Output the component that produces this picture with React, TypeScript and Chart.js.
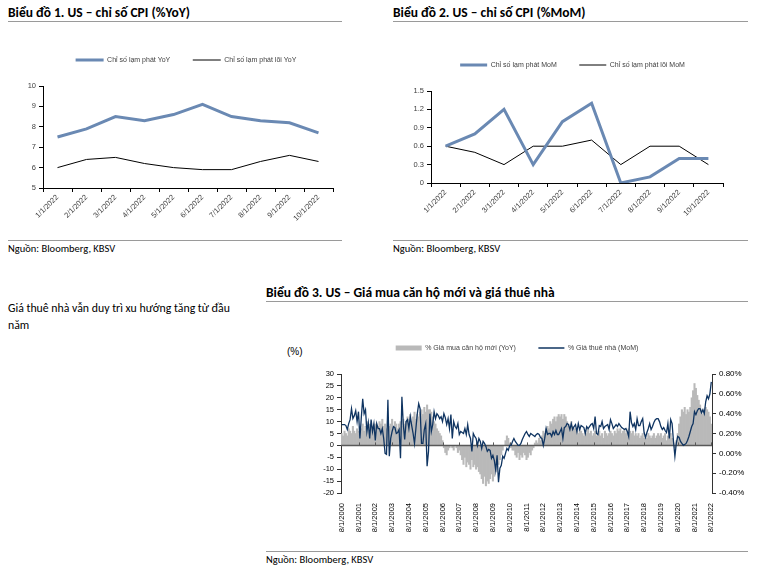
import React, { useEffect, useRef } from 'react';
import { Chart, registerables } from 'chart.js';

Chart.register(...registerables);

// ---------- Chart 1 & 2 data ----------
const cpiMonths = ['1/1/2022', '2/1/2022', '3/1/2022', '4/1/2022', '5/1/2022', '6/1/2022', '7/1/2022', '8/1/2022', '9/1/2022', '10/1/2022'];
const cpiYoY = [7.5, 7.9, 8.5, 8.3, 8.6, 9.1, 8.5, 8.3, 8.2, 7.7];
const coreYoY = [6.0, 6.4, 6.5, 6.2, 6.0, 5.9, 5.9, 6.3, 6.6, 6.3];
const cpiMoM = [0.6, 0.8, 1.2, 0.3, 1.0, 1.3, 0.0, 0.1, 0.4, 0.4];
const coreMoM = [0.6, 0.5, 0.3, 0.6, 0.6, 0.7, 0.3, 0.6, 0.6, 0.3];

// ---------- Chart 3 data (monthly, 8/2000 .. 8/2022) ----------
const housingStartYear = 2000;
const housingStartMonth = 8;
const newHomePriceYoY = [
  5, 4, 6, 5, 4, 7, 6, 5, 8, 6, 5, 7, 6,
  8, 7, 9, 6, 8, 10, 7, 9, 8, 6, 8, 9, 7, 8, 10, 9, 11, 8,
  9, 7, 10, 8, 9, 11, 8, 10, 9, 7, 9, 10, 8, 11, 9,
  10, 12, 11, 13, 10, 12, 14, 11, 13, 12, 14,
  15, 13, 16, 14, 17, 15,
  15, 14, 12, 10, 9, 7, 6, 5, 4, 2, -1, -3, -4, -2,
  -1, 0, -1, -2, 0, -1, -3, -2,
  -4, -6, -8, -5, -9, -7, -8, -10, -6, -9, -8,
  -10, -9, -11, -12, -14, -16, -13, -17, -15, -16, -14, -12,
  -15, -13, -11, -9, -8,
  -6, -4, -2, 0, 2, 4,
  3, 1, -1, -2,
  -2, -4, -5, -3, -6, -4, -5, -3, -4, -6, -5, -3, -4, -2, -1,
  1, 2, 1, 3, 2, 4,
  6, 5, 7, 8, 7,
  10, 9, 11, 12, 10, 12,
  13, 12, 13, 11, 13, 12,
  10, 9, 8, 10, 8, 7,
  7, 6, 5, 7, 6, 5, 4, 6, 5, 7, 5, 6, 4,
  5, 6, 4, 5, 6, 4, 5, 3, 6, 5, 4, 5, 6, 5, 4, 6, 5, 7,
  6, 7, 5, 6, 7, 5, 6, 7, 6, 5, 6, 4, 5,
  4, 5, 3, 4, 5, 3, 4, 3, 5, 4, 3, 4, 5, 3, 4, 5, 4,
  5, 3, 4, 5, 2, 4, 3, 5, 3,
  1, -1, 2, 5, 9,
  12, 15, 14, 16, 13, 15, 14, 16,
  20, 23, 26, 24, 21,
  19, 17, 15, 13, 14, 16,
  15, 14, 12, 9,
];
const rentMoM = [
  0.29, 0.29, 0.29, 0.28, 0.24, 0.30, 0.34, 0.45, 0.35, 0.38,
  0.43, 0.32, 0.42, 0.15, 0.36, 0.55, 0.40, 0.44, 0.22, 0.31,
  0.15, 0.34, 0.22, 0.30, 0.13, 0.30, 0.25, 0.25, 0.20, 0.25,
  0.15, 0.00, -0.01, 0.54, -0.03, 0.15, 0.22, 0.27, 0.26, 0.20,
  0.21, 0.24, -0.05, 0.57, 0.29, 0.14, 0.32, 0.34, 0.25, 0.37,
  0.28, 0.20, 0.10, 0.25, 0.40, 0.50, 0.45, 0.10, 0.10, 0.24,
  0.30, -0.13, 0.02,
  0.40, 0.22, 0.29, 0.42, 0.35, 0.40, 0.38, 0.35, 0.37, 0.32,
  0.40, 0.36, 0.29, 0.35, 0.25, 0.39, 0.15, 0.32, 0.27, 0.25,
  0.30, 0.19, 0.22, 0.21, 0.20, 0.25, 0.19, 0.29, 0.19, 0.15,
  0.02, 0.20, 0.17, 0.15, 0.08, 0.15, 0.12, 0.05, 0.12, 0.10,
  0.07, 0.02, 0.04, 0.03, -0.05, -0.02, -0.07, -0.17, -0.02, -0.29,
  -0.15, -0.12, -0.03, -0.05, 0.00, 0.05, 0.03, 0.08, 0.08, 0.12,
  0.15, 0.12, 0.10, 0.08, 0.08, 0.10, 0.14,
  0.17, 0.20, 0.22, 0.19, 0.17, 0.20, 0.19, 0.18, 0.17, 0.19,
  0.20, 0.19, 0.16, 0.15, 0.08, 0.15, 0.25, 0.19, 0.20, 0.20,
  0.17, 0.22, 0.19, 0.23, 0.19, 0.19, 0.22, 0.25, 0.15, 0.26,
  0.27, 0.30, 0.29, 0.24, 0.30, 0.24, 0.27, 0.29, 0.22, 0.30,
  0.24, 0.28, 0.27, 0.26, 0.20, 0.27, 0.25, 0.27, 0.29, 0.30,
  0.25, 0.37, 0.20, 0.19, 0.28, 0.27, 0.32, 0.25, 0.27, 0.28,
  0.29, 0.24, 0.34, 0.30, 0.25, 0.27, 0.29, 0.27,
  0.30, 0.28, 0.26, 0.25, 0.24, 0.25, 0.22, 0.17, 0.42, 0.31,
  0.27, 0.30, 0.24, 0.35, 0.28, 0.28, 0.32, 0.35, 0.21, 0.16,
  0.21, 0.25, 0.30, 0.24, 0.27, 0.31, 0.34, 0.35, 0.35, 0.32,
  0.27, 0.24, 0.26, 0.23, 0.21, 0.30, 0.15, 0.34, 0.30, 0.12,
  -0.03, 0.10, 0.17, 0.16, 0.12, 0.10, 0.08, 0.09, 0.10, 0.13,
  0.17, 0.22, 0.27, 0.30, 0.42, 0.39, 0.43, 0.45, 0.45, 0.41,
  0.44, 0.40, 0.52, 0.58, 0.55, 0.60, 0.72,
];
const housingMonths = newHomePriceYoY.map((_, i) => {
  const m = housingStartMonth - 1 + i;
  return `${(m % 12) + 1}/1/${housingStartYear + Math.floor(m / 12)}`;
});

const BLUE = '#6a89b3';
const NAVY = '#0f3461';
const GRAY_BAR = '#b9b9b9';
const TXT = '#404040';
const FONT = '"Liberation Sans", Arial, sans-serif';
const HEAD_FONT = 'Carlito, "Liberation Sans Narrow", Roboto, sans-serif';

Chart.defaults.font.family = FONT;

// an empty title used only as a spacer between the legend and the plot
const spacerTitle = { display: true, text: ' ', font: { size: 1 }, padding: { top: 11.3, bottom: 0 } };

function lineLegend(width: number) {
  return {
    position: 'top' as const,
    weight: 3000,
    labels: {
      usePointStyle: true,
      pointStyle: 'line',
      pointStyleWidth: width,
      padding: 22.5,
      color: TXT,
      font: { size: 7 },
    },
  };
}

function cpiConfig(labels: string[], a: number[], b: number[], la: string, lb: string, y: any, pad: any, rightWidth: number, legendW: number) {
  return {
    type: 'line',
    data: {
      labels,
      datasets: [
        { label: la, data: a, borderColor: BLUE, backgroundColor: BLUE, borderWidth: 3, pointRadius: 0, tension: 0 },
        { label: lb, data: b, borderColor: '#000', backgroundColor: '#000', borderWidth: 1, pointRadius: 0, tension: 0 },
      ],
    },
    options: {
      responsive: false,
      animation: false,
      layout: { padding: pad },
      plugins: { legend: lineLegend(legendW), title: spacerTitle, tooltip: { enabled: false } },
      scales: {
        x: {
          offset: true,
          grid: { offset: true, drawOnChartArea: false, drawTicks: true, tickLength: 4, color: '#000' },
          border: { color: '#000' },
          ticks: { minRotation: 45, maxRotation: 45, autoSkip: false, color: TXT, font: { size: 7.5 }, padding: 1 },
          afterFit: (s: any) => { s.height = 50; },
        },
        y: {
          ...y,
          grid: { drawOnChartArea: false, drawTicks: true, tickLength: 4, color: '#000' },
          border: { color: '#000' },
          ticks: { ...y.ticks, autoSkip: false, color: TXT, font: { size: 7.5 }, padding: 3 },
          afterFit: (s: any) => { s.width = 22; },
        },
        yR: {
          position: 'right',
          display: true,
          grid: { display: false, drawTicks: false },
          border: { display: false },
          ticks: { display: false },
          afterFit: (s: any) => { s.width = rightWidth; },
        },
      },
    },
  };
}

const zeroLinePlugin = {
  id: 'zeroLine',
  afterDatasetDraw(chart: any, args: any) {
    if (args.index !== 0) return;
    const { ctx, chartArea, scales } = chart;
    const y0 = scales.y.getPixelForValue(0);
    ctx.save();
    ctx.strokeStyle = '#595959';
    ctx.lineWidth = 1.5;
    ctx.beginPath();
    ctx.moveTo(chartArea.left, y0);
    ctx.lineTo(chartArea.right, y0);
    ctx.stroke();
    ctx.lineWidth = 1;
    ctx.beginPath();
    for (let i = 12; i < housingMonths.length; i += 12) {
      const x = Math.round(scales.x.getPixelForValue(i)) + 0.5;
      ctx.moveTo(x, y0);
      ctx.lineTo(x, y0 - 3);
    }
    ctx.stroke();
    ctx.restore();
  },
};

function housingConfig() {
  return {
    type: 'bar',
    data: {
      labels: housingMonths,
      datasets: [
        { type: 'bar', label: '% Giá mua căn hộ mới (YoY)', data: newHomePriceYoY, backgroundColor: GRAY_BAR, borderWidth: 0, barPercentage: 1, categoryPercentage: 1, yAxisID: 'y', order: 2 },
        { type: 'line', label: '% Giá thuê nhà (MoM)', data: rentMoM, borderColor: NAVY, backgroundColor: NAVY, borderWidth: 1.3, pointRadius: 0, tension: 0, yAxisID: 'y1', order: 1 },
      ],
    },
    plugins: [zeroLinePlugin],
    options: {
      responsive: false,
      animation: false,
      layout: { padding: { left: 16, right: 0, top: 0, bottom: 0 } },
      plugins: {
        tooltip: { enabled: false },
        title: spacerTitle,
        legend: {
          position: 'top',
          weight: 3000,
          labels: {
            usePointStyle: true,
            pointStyleWidth: 26,
            boxHeight: 5,
            padding: 22.5,
            color: TXT,
            font: { size: 7 },
            sort: (a: any, b: any) => a.datasetIndex - b.datasetIndex,
            generateLabels: (chart: any) => {
              const items = Chart.defaults.plugins.legend.labels.generateLabels(chart);
              return items.map((it: any) => {
                if (it.datasetIndex === 0) {
                  return { ...it, pointStyle: 'rect', fillStyle: GRAY_BAR, strokeStyle: GRAY_BAR, lineWidth: 0 };
                }
                return { ...it, pointStyle: 'line', fillStyle: NAVY, strokeStyle: NAVY, lineWidth: 1.3 };
              });
            },
          },
        },
      },
      scales: {
        x: {
          grid: { display: false },
          border: { display: false },
          ticks: {
            autoSkip: false,
            minRotation: 90,
            maxRotation: 90,
            color: '#000',
            font: { size: 7.5 },
            padding: 2,
            callback: (_v: any, i: number) => (i % 12 === 0 ? housingMonths[i] : null),
          },
          afterFit: (s: any) => { s.height = 45; },
        },
        y: {
          position: 'left',
          min: -20,
          max: 30,
          ticks: { stepSize: 5, autoSkip: false, color: '#000', font: { size: 7.5 }, padding: 3 },
          grid: { drawOnChartArea: false, drawTicks: true, tickLength: 4, color: '#333' },
          border: { color: '#333' },
          afterFit: (s: any) => { s.width = 59; },
        },
        y1: {
          position: 'right',
          min: -0.4,
          max: 0.8,
          ticks: { stepSize: 0.2, autoSkip: false, color: '#000', font: { size: 8 }, padding: 3, callback: (v: any) => `${Number(v).toFixed(2)}%` },
          grid: { drawOnChartArea: false, drawTicks: true, tickLength: 4, color: '#333' },
          border: { color: '#333' },
          afterFit: (s: any) => { s.width = 40; },
        },
      },
    },
  };
}

function ChartBox({ left, top, width, height, build }: { left: number; top: number; width: number; height: number; build: () => any }) {
  const ref = useRef<HTMLCanvasElement>(null);
  useEffect(() => {
    const chart = new Chart(ref.current as HTMLCanvasElement, build());
    return () => chart.destroy();
  }, []);
  return <canvas ref={ref} width={width} height={height} style={{ position: 'absolute', left, top, width, height }} />;
}

const abs = (left: number, top: number, extra: any = {}) => ({ position: 'absolute' as const, left, top, ...extra });

export default function App() {
  const title = { fontFamily: HEAD_FONT, fontWeight: 700, fontSize: 13.5, color: '#000', whiteSpace: 'nowrap' as const };
  const src = { fontFamily: HEAD_FONT, fontSize: 10.5, color: '#000', whiteSpace: 'nowrap' as const };
  const rule = (left: number, top: number, width: number) => <div style={abs(left, top, { width, height: 1, background: '#9a9a9a' })} />;
  return (
    <div style={{ position: 'fixed', left: 0, top: 0, width: 761, height: 566, background: '#fff', overflow: 'hidden' }}>
      <div style={abs(8, 4, title)}>Biểu đồ 1. US – chỉ số CPI (%YoY)</div>
      {rule(8, 21, 334)}
      <ChartBox left={8} top={34} width={343} height={204}
        build={() => cpiConfig(cpiMonths, cpiYoY, coreYoY, 'Chỉ số lạm phát YoY', 'Chỉ số lạm phát lõi YoY',
          { min: 5, max: 10, ticks: { stepSize: 1 } }, { left: 13, right: 0, top: 0, bottom: 0 }, 18, 28)} />
      {rule(8, 240, 334)}
      <div style={abs(8, 242, src)}>Nguồn: Bloomberg, KBSV</div>

      <div style={abs(393, 4, title)}>Biểu đồ 2. US – chỉ số CPI (%MoM)</div>
      {rule(393, 21, 355)}
      <ChartBox left={393} top={39} width={343} height={194}
        build={() => cpiConfig(cpiMonths, cpiMoM, coreMoM, 'Chỉ số lạm phát MoM', 'Chỉ số lạm phát lõi MoM',
          { min: 0, max: 1.5, ticks: { stepSize: 0.3, callback: (v: any) => (Number(v) === 0 ? '0' : Number(v).toFixed(1)) } },
          { left: 16, right: 0, top: 0, bottom: 0 }, 13, 27)} />
      {rule(393, 240, 355)}
      <div style={abs(393, 242, src)}>Nguồn: Bloomberg, KBSV</div>

      <div style={abs(8, 300, { fontFamily: HEAD_FONT, fontSize: 11.8, lineHeight: '17px', color: '#000', whiteSpace: 'nowrap' })}>
        Giá thuê nhà vẫn duy trì xu hướng tăng từ đầu<br />năm
      </div>

      <div style={abs(266, 284, title)}>Biểu đồ 3. US – Giá mua căn hộ mới và giá thuê nhà</div>
      {rule(266, 301, 482)}
      <div style={abs(287, 346, { fontFamily: FONT, fontSize: 10, color: '#000' })}>(%)</div>
      <ChartBox left={266} top={322} width={486} height={216} build={housingConfig} />
      {rule(266, 551, 482)}
      <div style={abs(266, 553, src)}>Nguồn: Bloomberg, KBSV</div>
    </div>
  );
}
